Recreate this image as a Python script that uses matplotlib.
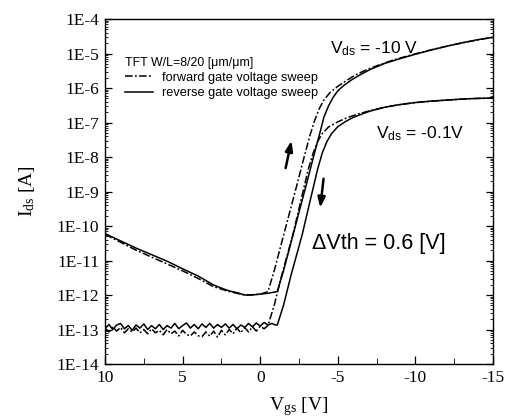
import numpy as np
import matplotlib
matplotlib.use("Agg")
from matplotlib import pyplot as plt
from matplotlib.ticker import FixedLocator, LogLocator, NullFormatter

plt.rcParams['mathtext.default'] = 'regular'

#%% Données lues sur la figure
# branche de fuite (faible courant), pas de 0.25 V
vg_fuite = [10.0, 9.75, 9.5, 9.25, 9.0, 8.75, 8.5, 8.25, 8.0, 7.75, 7.5, 7.25,
            7.0, 6.75, 6.5, 6.25, 6.0, 5.75, 5.5, 5.25, 5.0, 4.75, 4.5, 4.25,
            4.0, 3.75, 3.5, 3.25, 3.0, 2.75, 2.5, 2.25, 2.0, 1.75, 1.5, 1.25,
            1.0, 0.75, 0.5, 0.25, 0.0, -0.25, -0.5, -0.75, -1.0]

# Vds = -0.1 V, balayage inverse (trait plein) - fuite en unités de 1e-13 A
rev01_fuite = [1.05, 1.40, 1.00, 1.35, 1.50, 1.05, 1.30, 0.95, 1.35, 1.10, 1.45, 1.00,
               1.30, 1.05, 1.40, 1.00, 1.30, 1.10, 1.50, 1.05, 1.30, 1.55, 1.10, 1.40,
               1.05, 1.45, 1.15, 1.50, 1.10, 1.40, 1.15, 1.45, 1.10, 1.40, 1.05, 1.35,
               1.15, 1.50, 1.20, 1.55, 1.25, 1.60, 1.35, 1.50, 1.35]
vg_rev01_on = [-1.1, -1.5, -2.0, -2.4, -2.7, -3.2, -3.7, -4.0, -4.3, -4.6, -5.0, -5.5,
               -6.0, -7.0, -8.0, -9.0, -10.0, -11.0, -12.0, -13.0, -14.0, -15.0]
rev01_on = [-12.87, -12.3, -11.4, -10.75, -10.26, -9.3, -8.35, -7.88, -7.55, -7.32, -7.12, -6.97,
            -6.85, -6.68, -6.56, -6.48, -6.42, -6.38, -6.35, -6.32, -6.30, -6.29]

# Vds = -0.1 V, balayage direct (mixte)
fwd01_fuite = [1.10, 0.85, 1.20, 0.90, 1.15, 0.80, 1.05, 0.85, 1.10, 0.80, 1.00, 0.75,
               1.05, 0.80, 0.95, 0.70, 1.00, 0.75, 0.90, 0.65, 0.95, 0.72, 0.65, 0.85,
               0.66, 0.62, 0.85, 0.64, 0.90, 0.60, 0.95, 0.70, 1.00, 0.75, 1.10, 0.80,
               1.15, 0.85, 1.20, 0.90, 1.25, 1.05, 1.30]
vg_fwd01_on = [-0.9, -1.4, -1.8, -2.1, -2.6, -3.1, -3.4, -3.7, -4.0, -4.4, -5.0, -5.6,
               -6.4, -7.3, -8.3, -9.3, -10.5, -12.0, -13.5, -15.0]
fwd01_on = [-12.3, -11.4, -10.75, -10.26, -9.3, -8.35, -7.9, -7.55, -7.32, -7.13, -6.98, -6.86,
            -6.74, -6.63, -6.53, -6.46, -6.40, -6.35, -6.31, -6.29]

# Vds = -10 V, balayage inverse (trait plein), log10(Ids)
vg_rev10 = [10, 9, 8, 7, 6, 5, 4, 3.5, 3, 2.5, 2, 1.5, 1, 0.5, 0, -0.5, -1.1,
            -1.3, -1.5, -2.0, -2.5, -3.0, -3.4, -3.8, -4.1, -4.4, -4.7, -5.0, -5.4,
            -5.9, -6.5, -7.1, -8.0, -9.0, -10, -11, -12, -13, -14, -15]
rev10 = [-10.22, -10.43, -10.64, -10.83, -11.02, -11.24, -11.45, -11.58, -11.71, -11.80,
         -11.88, -11.93, -12.0, -12.0, -11.97, -11.95, -11.9,
         -11.6, -11.3, -10.45, -9.6, -8.75, -8.05, -7.38, -6.85, -6.52, -6.27, -6.08, -5.92,
         -5.76, -5.6, -5.46, -5.29, -5.15, -5.02, -4.90, -4.79, -4.69, -4.60, -4.53]

# Vds = -10 V, balayage direct (mixte)
vg_fwd10 = [10, 9, 8, 7, 6, 5, 4, 3, 2, 1, 0, -0.5,
            -0.7, -0.9, -1.4, -1.9, -2.4, -2.8, -3.2, -3.5, -3.8, -4.1, -4.5, -5.0,
            -5.5, -6.1, -6.8, -7.6, -8.5, -9.5, -10.5, -11.5, -12.5, -13.5, -14.3, -15]
fwd10 = [-10.24, -10.47, -10.7, -10.9, -11.1, -11.3, -11.52, -11.76, -11.9, -12.0, -11.98, -11.9,
         -11.6, -11.3, -10.45, -9.6, -8.75, -8.05, -7.38, -6.95, -6.6, -6.35, -6.13, -5.95,
         -5.8, -5.63, -5.48, -5.34, -5.2, -5.07, -4.95, -4.84, -4.74, -4.65, -4.58, -4.53]

#%% Construction des courbes
vg_rev01 = vg_fuite + vg_rev01_on
I_rev01 = np.concatenate([np.array(rev01_fuite)*1e-13, 10**np.array(rev01_on)])
vg_fwd01 = vg_fuite[:len(fwd01_fuite)] + vg_fwd01_on
I_fwd01 = np.concatenate([np.array(fwd01_fuite)*1e-13, 10**np.array(fwd01_on)])
I_rev10 = 10**np.array(rev10)
I_fwd10 = 10**np.array(fwd10)

#%% Graphique
fig = plt.figure(figsize=(5.08, 4.2), dpi=100)
ax = fig.add_axes([0.2067, 0.1333, 0.7638, 0.8214])

tiret = (0, (5, 1.5, 1.2, 1.5))
ax.plot(vg_fwd10, I_fwd10, color='k', lw=1.1, ls=tiret, label='forward gate voltage sweep')
ax.plot(vg_rev10, I_rev10, color='k', lw=1.1, ls='-', label='reverse gate voltage sweep')
ax.plot(vg_fwd01, I_fwd01, color='k', lw=1.1, ls=tiret)
ax.plot(vg_rev01, I_rev01, color='k', lw=1.1, ls='-')

ax.set_yscale('log')
ax.set_xlim(10, -15)
ax.set_ylim(1e-14, 1e-4)

ax.xaxis.set_major_locator(FixedLocator([10, 5, 0, -5, -10, -15]))
ax.xaxis.set_minor_locator(FixedLocator([7.5, 2.5, -2.5, -7.5, -12.5]))
ax.set_xticklabels(['10', '5', '0', '-5', '-10', '-15'])
ax.yaxis.set_minor_locator(LogLocator(base=10, subs=np.arange(2, 10), numticks=20))
ax.yaxis.set_minor_formatter(NullFormatter())
ax.set_yticks([10.0**k for k in range(-14, -3)])
ax.set_yticklabels(['1E%d' % k for k in range(-14, -3)])

for lab in ax.get_xticklabels() + ax.get_yticklabels():
    lab.set_family('Liberation Serif')
    lab.set_fontsize(12.5)

ax.tick_params(which='major', direction='in', length=5, width=0.9, right=True, top=False, pad=4)
ax.tick_params(which='minor', direction='in', length=2.5, width=0.6, right=True, top=False)
ax.tick_params(axis='x', which='major', length=6)
ax.tick_params(axis='x', which='minor', length=4)
for s in ax.spines.values():
    s.set_linewidth(1.0)

ax.set_xlabel(r'V$_{gs}$ [V]', family='Liberation Serif', fontsize=14, labelpad=7)
ax.set_ylabel(r'I$_{ds}$ [A]', family='Liberation Serif', fontsize=14, labelpad=14)

leg = ax.legend(title='TFT W/L=8/20 [\u03bcm/\u03bcm]', loc='upper left',
                bbox_to_anchor=(0.022, 0.924), frameon=False,
                title_fontsize=8.9, handlelength=2.2, handletextpad=0.7,
                labelspacing=0.25, alignment='left',
                prop={'family': 'Liberation Sans', 'size': 9.2})
leg.get_title().set_family('Liberation Sans')

ax.text(-4.5, 10**-4.99, r'V$_{ds}$ = -10 V', family='Liberation Sans', fontsize=12.5, va='baseline')
ax.text(-7.46, 10**-7.45, r'V$_{ds}$ = -0.1V', family='Liberation Sans', fontsize=12.5, va='baseline')
ax.text(-3.35, 10**-10.67, '\u0394Vth = 0.6 [V]', family='Liberation Sans', fontsize=15.5, va='baseline')

fleche = dict(arrowstyle='-|>,head_length=0.6,head_width=0.22', color='k', lw=1.8)
ax.annotate('', xy=(-2.05, 10**-7.45), xytext=(-1.6, 10**-8.4), arrowprops=fleche)
ax.annotate('', xy=(-3.85, 10**-9.55), xytext=(-4.1, 10**-8.55), arrowprops=fleche)

fig.savefig('out.png', dpi=100)
